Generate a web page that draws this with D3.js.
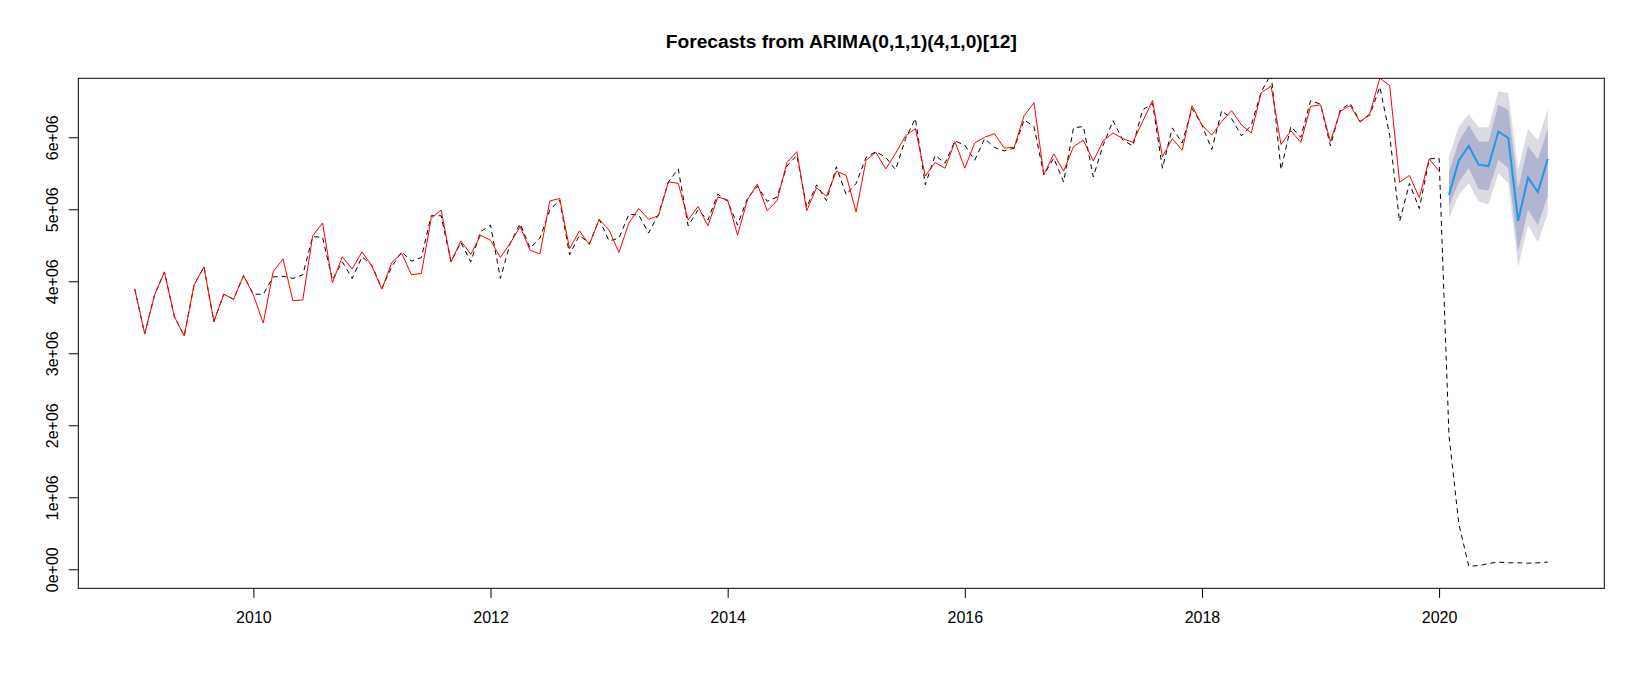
<!DOCTYPE html>
<html>
<head>
<meta charset="utf-8">
<script src="https://cdn.jsdelivr.net/npm/d3@7"></script>
<style>
  body { margin: 0; background: #ffffff; }
  svg { display: block; }
  text { font-family: "Liberation Sans", Arial, sans-serif; fill: #000000; }
</style>
</head>
<body>
<svg id="chart"></svg>
<script>

// monthly series, values in millions
var startYear = 2009;
var frequency = 12;

// observed series Jan 2009 - Dec 2020 (dashed black)
var actualValues = [
  3.89, 3.27, 3.81, 4.13, 3.51, 3.24, 3.95, 4.20, 3.44, 3.82, 3.75, 4.08,
  3.82, 3.82, 4.06, 4.07, 4.04, 4.09, 4.62, 4.61, 4.02, 4.27, 4.04, 4.34,
  4.22, 3.90, 4.20, 4.41, 4.28, 4.33, 4.91, 4.91, 4.27, 4.54, 4.27, 4.69,
  4.78, 4.04, 4.53, 4.80, 4.46, 4.60, 4.99, 5.13, 4.37, 4.64, 4.52, 4.86,
  4.56, 4.60, 4.93, 4.92, 4.67, 4.93, 5.38, 5.56, 4.77, 4.99, 4.85, 5.21,
  5.11, 4.78, 5.15, 5.32, 5.11, 5.17, 5.60, 5.75, 5.03, 5.34, 5.12, 5.59,
  5.20, 5.36, 5.72, 5.80, 5.72, 5.55, 5.98, 6.26, 5.34, 5.75, 5.64, 5.95,
  5.89, 5.68, 5.98, 5.86, 5.81, 5.85, 6.24, 6.15, 5.48, 5.71, 5.38, 6.13,
  6.15, 5.45, 5.89, 6.23, 5.96, 5.88, 6.38, 6.47, 5.57, 6.13, 5.92, 6.40,
  6.17, 5.83, 6.37, 6.26, 6.02, 6.17, 6.63, 6.88, 5.55, 6.15, 6.00, 6.51,
  6.46, 5.88, 6.38, 6.47, 6.22, 6.31, 6.70, 6.03, 4.83, 5.36, 5.01, 5.70,
  5.71, 1.86, 0.63, 0.045, 0.05, 0.08, 0.10, 0.09, 0.09, 0.085, 0.09, 0.10
];

// fitted values Jan 2009 - Jan 2020 (red)
var fittedValues = [
  3.89, 3.27, 3.81, 4.13, 3.51, 3.24, 3.95, 4.20, 3.44, 3.82, 3.75, 4.08,
  3.81, 3.42, 4.13, 4.31, 3.73, 3.74, 4.63, 4.81, 3.98, 4.34, 4.17, 4.41,
  4.21, 3.89, 4.26, 4.39, 4.09, 4.11, 4.875, 4.99, 4.27, 4.56, 4.375, 4.64,
  4.57, 4.33, 4.53, 4.76, 4.43, 4.38, 5.115, 5.15, 4.45, 4.70, 4.51, 4.86,
  4.71, 4.40, 4.81, 5.01, 4.86, 4.91, 5.38, 5.36, 4.85, 5.04, 4.77, 5.17,
  5.13, 4.64, 5.13, 5.35, 4.98, 5.12, 5.65, 5.80, 4.98, 5.30, 5.18, 5.53,
  5.47, 4.96, 5.68, 5.79, 5.56, 5.78, 6.02, 6.12, 5.46, 5.65, 5.57, 5.94,
  5.57, 5.92, 6.00, 6.05, 5.85, 5.86, 6.30, 6.48, 5.48, 5.77, 5.53, 5.87,
  5.96, 5.67, 5.95, 6.06, 5.98, 5.93, 6.22, 6.51, 5.73, 5.98, 5.82, 6.44,
  6.17, 6.03, 6.22, 6.37, 6.17, 6.06, 6.62, 6.71, 5.90, 6.09, 5.93, 6.43,
  6.45, 5.94, 6.36, 6.44, 6.21, 6.33, 6.82, 6.72, 5.375, 5.47, 5.16, 5.70,
  5.53
];

// forecast Feb 2020 - Dec 2020
var forecastStart = 2020 + 1 / 12;
var forecastMean = [5.20, 5.68, 5.88, 5.62, 5.60, 6.08, 5.99, 4.84, 5.44, 5.24, 5.70];
var lower80 = [5.04, 5.38, 5.57, 5.28, 5.26, 5.69, 5.57, 4.41, 4.99, 4.78, 5.18];
var upper80 = [5.52, 5.94, 6.17, 5.94, 5.94, 6.45, 6.38, 5.29, 5.88, 5.69, 6.12];
var lower95 = [4.875, 5.20, 5.36, 5.11, 5.07, 5.50, 5.36, 4.20, 4.78, 4.54, 4.94];
var upper95 = [5.73, 6.15, 6.32, 6.14, 6.14, 6.64, 6.61, 5.55, 6.11, 5.96, 6.39];

var xTicks = [2010, 2012, 2014, 2016, 2018, 2020];
var yTicks = [0, 1, 2, 3, 4, 5, 6];
var yLabels = ["0e+00", "1e+06", "2e+06", "3e+06", "4e+06", "5e+06", "6e+06"];

var chartTitle = "Forecasts from ARIMA(0,1,1)(4,1,0)[12]";

var svgWidth = 1645, svgHeight = 686;
var plotLeft = 78.3, plotRight = 1604.3, plotTop = 78.3, plotBottom = 588.3;

var svg = d3.select("#chart")
    .attr("width", svgWidth)
    .attr("height", svgHeight);

svg.append("rect")
    .attr("width", svgWidth)
    .attr("height", svgHeight)
    .style("fill", "#ffffff");

// x runs over the whole series with 4% padding like base R
var xStart = startYear;
var xEnd = startYear + (actualValues.length - 1) / frequency;
var xPad = (xEnd - xStart) * 0.04;

var x = d3.scaleLinear()
    .domain([xStart - xPad, xEnd + xPad])
    .range([plotLeft, plotRight]);

var y = d3.scaleLinear()
    .domain([-0.264, 6.819])
    .range([plotBottom, plotTop]);

function monthTime(start, i) {
    return start + i / frequency;
}

// keep the series inside the plot box
svg.append("clipPath")
    .attr("id", "plotClip")
    .append("rect")
    .attr("x", plotLeft)
    .attr("y", plotTop)
    .attr("width", plotRight - plotLeft)
    .attr("height", plotBottom - plotTop);

var plotArea = svg.append("g").attr("clip-path", "url(#plotClip)");

// prediction intervals
var forecastRows = forecastMean.map(function(d, i) {
    return {
        t: monthTime(forecastStart, i),
        mean: d,
        lo80: lower80[i], hi80: upper80[i],
        lo95: lower95[i], hi95: upper95[i]
    };
});

plotArea.append("path")
    .datum(forecastRows)
    .attr("d", d3.area()
        .x(function(d) { return x(d.t); })
        .y0(function(d) { return y(d.lo95); })
        .y1(function(d) { return y(d.hi95); }))
    .style("fill", "#dbdbe1")
    .style("stroke", "none");

plotArea.append("path")
    .datum(forecastRows)
    .attr("d", d3.area()
        .x(function(d) { return x(d.t); })
        .y0(function(d) { return y(d.lo80); })
        .y1(function(d) { return y(d.hi80); }))
    .style("fill", "#b1b5cf")
    .style("stroke", "none");

plotArea.append("path")
    .datum(forecastRows)
    .attr("d", d3.line()
        .x(function(d) { return x(d.t); })
        .y(function(d) { return y(d.mean); }))
    .style("fill", "none")
    .style("stroke", "#2297e6")
    .style("stroke-width", 2);

// observed, dashed
plotArea.append("path")
    .datum(actualValues)
    .attr("d", d3.line()
        .x(function(d, i) { return x(monthTime(startYear, i)); })
        .y(function(d) { return y(d); }))
    .style("fill", "none")
    .style("stroke", "#000000")
    .style("stroke-width", 1)
    .style("stroke-dasharray", "5,4");

// fitted line on top
plotArea.append("path")
    .datum(fittedValues)
    .attr("d", d3.line()
        .x(function(d, i) { return x(monthTime(startYear, i)); })
        .y(function(d) { return y(d); }))
    .style("fill", "none")
    .style("stroke", "#ff0000")
    .style("stroke-width", 1);

// axes
var xAxis = svg.append("g")
    .attr("transform", "translate(0," + plotBottom + ")")
    .call(d3.axisBottom(x).tickValues(xTicks).tickSize(9.6).tickFormat(d3.format("d")));

xAxis.select(".domain").remove();
xAxis.selectAll("line").style("stroke", "#000000");
xAxis.selectAll("text")
    .attr("y", 34.7)
    .attr("dy", null)
    .style("font-size", "16px")
    .style("font-family", "'Liberation Sans', Arial, sans-serif")
    .style("fill", "#000000");

var yAxis = svg.append("g")
    .attr("transform", "translate(" + plotLeft + ",0)")
    .call(d3.axisLeft(y).tickValues(yTicks).tickSize(9.6)
        .tickFormat(function(d, i) { return yLabels[i]; }));

yAxis.select(".domain").remove();
yAxis.selectAll("line").style("stroke", "#000000");
yAxis.selectAll("text")
    .attr("transform", "rotate(-90)")
    .attr("x", 0)
    .attr("y", -20.5)
    .attr("dy", null)
    .attr("text-anchor", "middle")
    .style("font-size", "16px")
    .style("font-family", "'Liberation Sans', Arial, sans-serif")
    .style("fill", "#000000");

// plot box
svg.append("rect")
    .attr("x", plotLeft)
    .attr("y", plotTop)
    .attr("width", plotRight - plotLeft)
    .attr("height", plotBottom - plotTop)
    .style("fill", "none")
    .style("stroke", "#000000")
    .style("stroke-width", 1);

// title
svg.append("text")
    .attr("x", (plotLeft + plotRight) / 2)
    .attr("y", 48)
    .attr("text-anchor", "middle")
    .style("font-size", "19.2px")
    .style("font-weight", "bold")
    .text(chartTitle);

</script>
</body>
</html>
